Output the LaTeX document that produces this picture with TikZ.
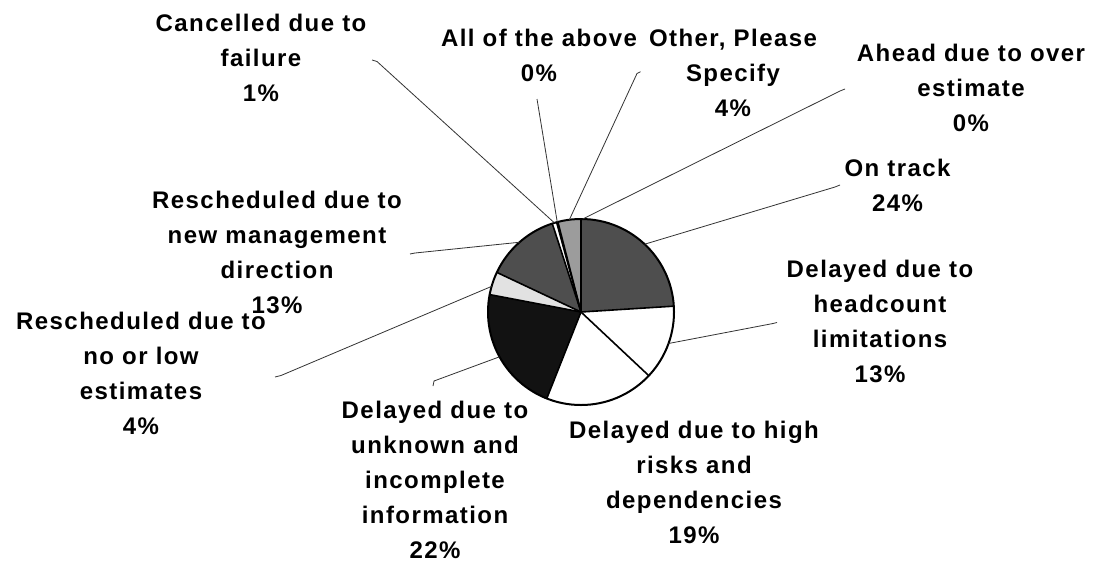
\documentclass[tikz,border=0pt]{standalone}
\usepackage{fontspec}
\setmainfont{Liberation Sans}[LetterSpace=6]
\definecolor{pdark}{HTML}{4E4E4E}
\definecolor{pmid}{HTML}{9C9C9C}
\definecolor{plight}{HTML}{E2E2E2}
\definecolor{pblack}{HTML}{121212}
\begin{document}
\begin{tikzpicture}[x=1pt,y=-1pt,
  lbl/.style={font=\fontsize{24}{35}\selectfont\bfseries, align=center, inner sep=0pt, text=black},
  leader/.style={draw=black!80, line width=0.8pt},
  border/.style={draw=black, line width=1.6pt, line cap=round}]
\useasboundingbox (0,0) rectangle (1097,563);
\fill[white] (0,0) rectangle (1097,563);

% pie centre and radius (angles are measured clockwise because y points down)
\coordinate (c) at (581,312);
\def\R{93}
\newcommand\pieslice[3]{\fill[#3] (c) -- ++(#1:\R) arc[start angle=#1, end angle=#2, radius=\R] -- cycle;}

\pieslice{-90}{-3.6}{pdark}      % On track
\pieslice{-3.6}{43.2}{white}     % headcount
\pieslice{43.2}{111.6}{white}    % high risks
\pieslice{111.6}{190.8}{pblack}  % unknown information
\pieslice{190.8}{205.2}{plight}  % no or low estimates
\pieslice{205.2}{252}{pdark}     % new management direction
\pieslice{252}{254.8}{white}     % cancelled
\pieslice{254.8}{255.6}{pblack}  % all of the above
\pieslice{255.6}{270}{pmid}      % other

\foreach \a in {-90,-3.6,43.2,111.6,190.8,205.2,252,254.8,255.6}
  \draw[border] (c) -- ++(\a:\R);
\draw[line width=2pt] (c) circle[radius=\R];

% leader ends on the rim
\path (c) ++(-106.6:\R) coordinate (pcan);
\path (c) ++(-104.8:\R) coordinate (pall);
\path (c) ++(-97.2:\R) coordinate (poth);
\path (c) ++(-89:\R) coordinate (pahd);
\path (c) ++(-46.8:\R) coordinate (ptrk);
\path (c) ++(19.8:\R) coordinate (phc);
\path (c) ++(151.2:\R) coordinate (punk);
\path (c) ++(-164:\R) coordinate (plow);
\path (c) ++(-131.4:\R) coordinate (pmgt);

% labels
\node[lbl] (lcan) at (261,58.1) {Cancelled due to\\failure\\1\%};
\node[lbl] (lall) at (539,55.8) {All of the above\\0\%};
\node[lbl] (loth) at (733,72.5) {Other, Please\\Specify\\4\%};
\node[lbl] (lahd) at (971,88.1) {Ahead due to over\\estimate\\0\%};
\node[lbl] (ltrk) at (897.5,185) {On track\\24\%};
\node[lbl] (lhc) at (880,321.1) {Delayed due to\\headcount\\limitations\\13\%};
\node[lbl] (lhr) at (694,482.6) {Delayed due to high\\risks and\\dependencies\\19\%};
\node[lbl] (lunk) at (435,480.1) {Delayed due to\\unknown and\\incomplete\\information\\22\%};
\node[lbl] (llow) at (141,373.3) {Rescheduled due to\\no or low\\estimates\\4\%};
\node[lbl] (lmgt) at (277,252.6) {Rescheduled due to\\new management\\direction\\13\%};

% leader lines
\coordinate (acan) at (372,60);  \coordinate (bcan) at (377,61.5);
\coordinate (aall) at (537,99);
\coordinate (aoth) at (640.5,71.7); \coordinate (both) at (637,73.5);
\coordinate (aahd) at (845,89);  \coordinate (bahd) at (840,91);
\coordinate (atrk) at (840,185); \coordinate (btrk) at (835,187);
\coordinate (ahc) at (777,322.5);  \coordinate (bhc) at (773,323.5);
\coordinate (aunk) at (433,386); \coordinate (bunk) at (434,381);
\coordinate (alow) at (275,377); \coordinate (blow) at (281,375.5);
\coordinate (amgt) at (410,254); \coordinate (bmgt) at (415,253);

\draw[leader] (acan) -- (bcan) -- (pcan);
\draw[leader] (aall) -- (pall);
\draw[leader] (aoth) -- (both) -- (poth);
\draw[leader] (aahd) -- (bahd) -- (pahd);
\draw[leader] (atrk) -- (btrk) -- (ptrk);
\draw[leader] (ahc) -- (bhc) -- (phc);
\draw[leader] (aunk) -- (bunk) -- (punk);
\draw[leader] (alow) -- (blow) -- (plow);
\draw[leader] (amgt) -- (bmgt) -- (pmgt);
\end{tikzpicture}
\end{document}
